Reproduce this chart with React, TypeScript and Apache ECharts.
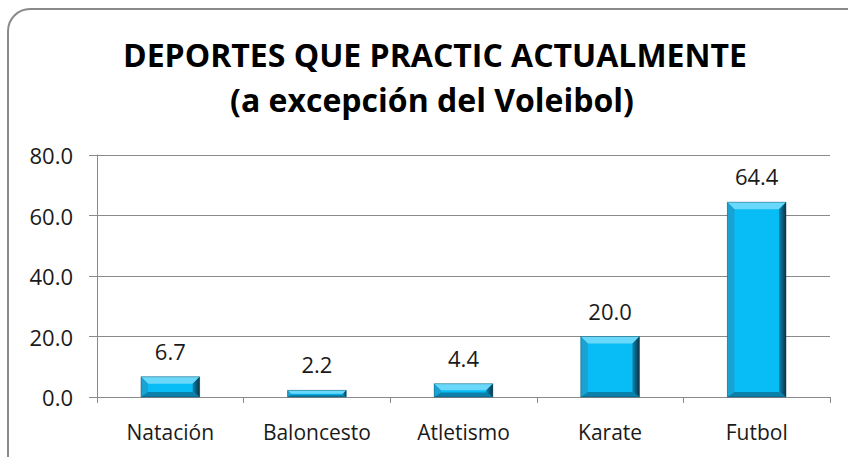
import React, { useEffect, useRef } from "react";
import * as echarts from "echarts";

const titleLines = ["DEPORTES QUE PRACTIC ACTUALMENTE", "(a excepción del Voleibol)"];
const categories = ["Natación", "Baloncesto", "Atletismo", "Karate", "Futbol"];
const values = [6.7, 2.2, 4.4, 20.0, 64.4];
const yTicks = { min: 0, max: 80, interval: 20 };

const FONT = "'Open Sans', 'Noto Sans', sans-serif";

export default function App() {
  const ref = useRef<HTMLDivElement>(null);
  useEffect(() => {
    if (!ref.current) return;
    const chart = echarts.init(ref.current, null, { renderer: "svg" });
    const renderItem = (params: any, api: any) => {
      const idx = api.value(0);
      const val = api.value(1);
      const top = api.coord([idx, val]);
      const base = api.coord([idx, 0]);
      const bw = api.size([1, 0])[0] * 0.4;
      const x0 = top[0] - bw / 2;
      const x1 = x0 + bw;
      const y0 = top[1];
      const y1 = base[1];
      const h = y1 - y0;
      const b = Math.min(7, h / 2, bw / 2);
      const bb = Math.min(5, h / 3);
      return {
        type: "group",
        children: [
          { type: "rect", shape: { x: x0, y: y0, width: bw, height: h }, style: { fill: "#08BDF5" } },
          {
            type: "polygon",
            shape: { points: [[x0, y0], [x1, y0], [x1 - b, y0 + b], [x0 + b, y0 + b]] },
            style: { fill: "#6AD8FA" },
          },
          {
            type: "polygon",
            shape: { points: [[x0, y0], [x0 + b, y0 + b], [x0 + b, y1 - bb], [x0, y1]] },
            style: { fill: "#1AA2D2" },
          },
          {
            type: "polygon",
            shape: { points: [[x1, y0], [x1, y1], [x1 - b, y1 - bb], [x1 - b, y0 + b]] },
            style: {
              fill: new echarts.graphic.LinearGradient(0, 0, 1, 0, [
                { offset: 0, color: "#0A86B2" },
                { offset: 1, color: "#0B3344" },
              ]),
            },
          },
          {
            type: "polygon",
            shape: { points: [[x0, y1], [x1, y1], [x1 - b, y1 - bb], [x0 + b, y1 - bb]] },
            style: { fill: "#0A80AA" },
          },
          {
            type: "rect",
            shape: { x: x0, y: y0, width: bw, height: h },
            style: { fill: "none", stroke: "rgba(10,60,80,0.5)", lineWidth: 0.8 },
          },
          {
            type: "text",
            style: {
              text: val.toFixed(1),
              x: top[0],
              y: y0 - 15,
              align: "center",
              verticalAlign: "bottom",
              fill: "#1a1a1a",
              font: `22px ${FONT}`,
            },
          },
        ],
      };
    };
    chart.setOption({
      animation: false,
      backgroundColor: "#ffffff",
      graphic: [
        {
          type: "rect",
          shape: { x: 8, y: 9, width: 860, height: 470, r: 22 },
          style: { fill: "none", stroke: "#8a8a8a", lineWidth: 2 },
          z: -1,
        },
        {
          type: "text",
          x: 435,
          y: 54,
          style: {
            text: titleLines[0],
            font: `bold 32px ${FONT}`,
            align: "center",
            verticalAlign: "middle",
            fill: "#000000",
          },
        },
        {
          type: "text",
          x: 432,
          y: 99,
          style: {
            text: titleLines[1],
            font: `bold 32px ${FONT}`,
            align: "center",
            verticalAlign: "middle",
            fill: "#000000",
          },
        },
      ],
      grid: { left: 97, right: 18, top: 155, bottom: 60 },
      xAxis: {
        type: "category",
        data: categories,
        axisLine: { lineStyle: { color: "#8a8a8a", width: 1 } },
        axisTick: { show: true, length: 6, alignWithLabel: false, lineStyle: { color: "#8a8a8a" } },
        axisLabel: { color: "#1a1a1a", fontFamily: FONT, fontSize: 21, margin: 24, interval: 0 },
      },
      yAxis: {
        type: "value",
        min: yTicks.min,
        max: yTicks.max,
        interval: yTicks.interval,
        axisLine: { show: true, lineStyle: { color: "#8a8a8a", width: 1 } },
        axisTick: { show: true, length: 8, inside: false, lineStyle: { color: "#8a8a8a" } },
        splitLine: { lineStyle: { color: "#8a8a8a", width: 1 } },
        axisLabel: {
          color: "#1a1a1a",
          fontFamily: FONT,
          fontSize: 22,
          margin: 24,
          formatter: (v: number) => v.toFixed(1),
        },
      },
      series: [
        {
          type: "custom",
          renderItem,
          data: values.map((v, i) => [i, v]),
          clip: false,
        },
      ],
    });
    return () => chart.dispose();
  }, []);
  return (
    <div
      ref={ref}
      style={{ position: "fixed", left: 0, top: 0, width: 848, height: 457 }}
    />
  );
}
